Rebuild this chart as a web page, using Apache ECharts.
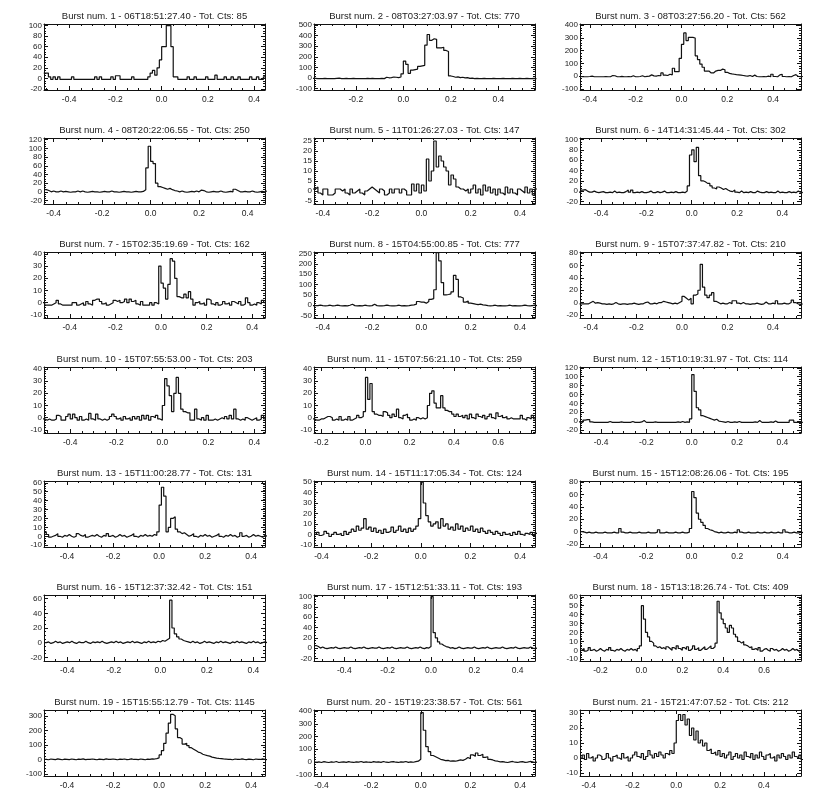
<!DOCTYPE html>
<html><head><meta charset="utf-8">
<script src="https://cdn.jsdelivr.net/npm/echarts@6/dist/echarts.min.js"></script>
<style>html,body{margin:0;padding:0;background:#fff}#c{width:827px;height:797px}</style>
</head><body><div id="c"></div>
<script>
// ---------------- DATA ----------------
const BIN = 0.01; // bin width (s)
const titles = [
 "Burst num. 1 - 06T18:51:27.40 - Tot. Cts: 85",
 "Burst num. 2 - 08T03:27:03.97 - Tot. Cts: 770",
 "Burst num. 3 - 08T03:27:56.20 - Tot. Cts: 562",
 "Burst num. 4 - 08T20:22:06.55 - Tot. Cts: 250",
 "Burst num. 5 - 11T01:26:27.03 - Tot. Cts: 147",
 "Burst num. 6 - 14T14:31:45.44 - Tot. Cts: 302",
 "Burst num. 7 - 15T02:35:19.69 - Tot. Cts: 162",
 "Burst num. 8 - 15T04:55:00.85 - Tot. Cts: 777",
 "Burst num. 9 - 15T07:37:47.82 - Tot. Cts: 210",
 "Burst num. 10 - 15T07:55:53.00 - Tot. Cts: 203",
 "Burst num. 11 - 15T07:56:21.10 - Tot. Cts: 259",
 "Burst num. 12 - 15T10:19:31.97 - Tot. Cts: 114",
 "Burst num. 13 - 15T11:00:28.77 - Tot. Cts: 131",
 "Burst num. 14 - 15T11:17:05.34 - Tot. Cts: 124",
 "Burst num. 15 - 15T12:08:26.06 - Tot. Cts: 195",
 "Burst num. 16 - 15T12:37:32.42 - Tot. Cts: 151",
 "Burst num. 17 - 15T12:51:33.11 - Tot. Cts: 193",
 "Burst num. 18 - 15T13:18:26.74 - Tot. Cts: 409",
 "Burst num. 19 - 15T15:55:12.79 - Tot. Cts: 1145",
 "Burst num. 20 - 15T19:23:38.57 - Tot. Cts: 561",
 "Burst num. 21 - 15T21:47:07.52 - Tot. Cts: 212"
];
const xMin = [-0.509,-0.376,-0.443,-0.44,-0.436,-0.493,-0.513,-0.436,-0.448,-0.514,-0.233,-0.493,-0.5,-0.43,-0.49,-0.5,-0.54,-0.3,-0.5,-0.43,-0.44];
const xMax = [0.447,0.554,0.522,0.472,0.461,0.482,0.456,0.461,0.523,0.446,0.767,0.482,0.46,0.46,0.48,0.45,0.48,0.78,0.46,0.46,0.57];
const yMin = [-22,-112,-109,-28,-6.5,-25,-12.5,-62,-25,-12.5,-12.5,-27,-12,-12,-25,-25,-25,-12,-115,-112,-12];
const yMax = [103,509,410,124,26.5,103,41.5,258,82,41.5,41.5,122,62,51,82,65,103,62,340,410,32];
const xT4 = [-0.4,-0.2,0,0.2,0.4];
const xTicks = [xT4,[-0.2,0,0.2,0.4],xT4,xT4,xT4,xT4,xT4,xT4,xT4,xT4,[-0.2,0,0.2,0.4,0.6],xT4,xT4,xT4,xT4,xT4,xT4,[-0.2,0,0.2,0.4,0.6],xT4,xT4,xT4];
const yTicks = [
 [-20,0,20,40,60,80,100],[-100,0,100,200,300,400,500],[-100,0,100,200,300,400],[-20,0,20,40,60,80,100,120],
 [-5,0,5,10,15,20,25],[-20,0,20,40,60,80,100],[-10,0,10,20,30,40],[-50,0,50,100,150,200,250],
 [-20,0,20,40,60,80],[-10,0,10,20,30,40],[-10,0,10,20,30,40],[-20,0,20,40,60,80,100,120],
 [-10,0,10,20,30,40,50,60],[-10,0,10,20,30,40,50],[-20,0,20,40,60,80],[-20,0,20,40,60],
 [-20,0,20,40,60,80,100],[-10,0,10,20,30,40,50,60],[-100,0,100,200,300],[-100,0,100,200,300,400],[-10,0,10,20,30]
];
const yMinorStep = [5,20,20,5,1,5,2,10,5,2,2,5,2,2,5,5,5,2,20,20,2];
const xMinorStep = 0.05;
const kStart = [-51,-38,-45,-44,-44,-50,-52,-44,-45,-52,-24,-50,-50,-43,-49,-50,-54,-30,-50,-43,-44];

const counts1 = [10,10,3,-2,3,-2,3,-2,-2,-2, -2,-2,3,-2,-2,-2,-2,-2,-2,-2, -2,-2,3,-2,3,-2,-2,-2,-2,3, -2,5,5,-2,-2,-2,-2,-2,3,-2, -2,-2,-2,-2,-2,3,10,15,6,20, 35,60,60,100,100,60,3,3,-2,-2, -2,-2,3,-2,-2,3,-2,-2,-2,-2, 3,-2,-2,-2,6,-2,-2,-2,3,-2, -2,3,-2,-2,3,-2,-2,-2,-2,3, -2,-2,3,-2,-2,3];
const counts2 = [-3,-5,-5,-5,-3,-5,-5,-5,-5,-2, 0,-5,-5,-3,-5,-5,-2,-5,-5,-5, -5,-5,-3,-5,-2,-5,-5,-5,-3,-5, 8,3,5,10,8,5,10,40,160,130, 45,75,80,85,110,115,120,310,410,355, 370,365,285,285,290,260,250,20,15,8, 12,5,8,2,5,-3,0,-5,-3,-5, -5,-2,-5,-5,-5,-2,-5,-5,-5,-3, -5,-5,-5,-2,-5,-5,-3,-5,-5,-2, -5,-5,-3,-5];
const counts3 = [-3,-5,-5,-5,-3,0,-5,-5,-5,-5, -5,-3,-5,-5,5,3,-5,-5,-2,-5, -5,-3,-5,3,-5,-5,-3,3,-5,-2, 0,10,2,0,5,3,25,8,5,15, 10,62,35,35,140,250,340,280,305,305, 300,160,130,95,70,40,40,25,25,40, 45,45,55,50,30,22,18,15,12,10, 8,5,2,0,5,-3,8,-3,-5,-5, -3,-5,0,-5,15,-3,-5,10,15,-3, -5,-3,-5,5,12,-3,-5,-3];
const counts4 = [5,3,0,2,0,0,2,0,1,0, -1,0,0,2,0,2,0,-1,0,1, 0,0,-1,0,1,0,0,2,0,0, -1,0,1,0,0,-1,0,1,0,0, 1,5,55,105,70,65,20,12,10,8, 6,8,5,3,2,0,2,0,-1,0, 1,0,2,0,4,3,0,-1,0,1, 0,0,2,0,-1,0,1,0,6,3, 0,0,1,0,0,2,0,-1,0,1,0,2];
const counts5 = [1,2,-1,-2,1,1,-2,-2,-1,1, 1,0,1,-1,-2,1,-1,0,1,-1, -2,0,1,2,1,0,-1,1,0,-2, -1,1,-1,1,1,-1,1,0,-2,-2, 3.5,0,3.5,-1,3,0,16,5,10,25, 12,17.5,15,12,10,3,8,6,2,1, 1,0,1,-1,1,3,-1,1,-2,3, 0,2,-1,1,-2,1,-1,-2,2,-1, 1,-1,-2,1,0,-1,2,-1,1,-2,1];
const counts6 = [-2,2,3,0,-2,-2,0,-2,-3,-2, -1,-3,-3,-2,-3,0,-3,-2,-3,-3, -1,2,-2,2,-3,-2,-3,-1,-3,-3, -2,0,-3,-3,-1,-3,-2,0,-3,-3, -2,-3,-1,-3,-3,-2,-3,0,10,70, 80,57,85,30,20,18,15,15,10,6, 4,8,6,3,5,2,0,-1,2,-2, -3,0,-3,-2,-3,-1,-3,-3,0,-2, -3,-3,-1,-3,-2,-3,-3,0,-3,-2, -3,-3,-1,-3,-2,-3,0,-2,-3];
const counts7 = [0,-2,-2,-2,-1,0,2,-1,-2,-2, -2,-2,-2,0,0,-2,-1,0,-2,1, -1,-2,2,3,3,1,-1,0,-2,-1, 0,2,1,2,0,1,3,0,3,1, 2,-1,-2,1,-2,-2,-2,0,-2,0, -1,30,16,12,3,15,36,34,20,5, 4,4,7,4,9,3,-2,0,1,-1, 0,-2,3,2,-1,-2,0,-2,-1,1, -1,0,-2,1,0,-1,1,-2,-1,4, 0,-2,-1,-2,0,-1,2,0];
const counts8 = [-2,-2,0,-2,-3,-2,0,-3,-2,0, -2,-3,-2,-3,0,5,-2,-3,-2,-3, 0,-2,-3,-2,5,-2,-3,-3,-2,0, -2,-3,-3,-2,0,-3,-2,-3,-2,0, 2,5,18,15,15,10,18,28,32,75, 255,215,110,50,52,55,65,145,125,40, 35,15,20,10,8,5,3,5,2,0, -2,-3,-2,0,-3,-2,-3,-3,-2,0, -3,-2,-3,-3,-2,0,-2,-3,-2,0,-2];
const counts9 = [-2,-2,-2,-2,0,2,-1,0,-1,-2, -2,-3,-2,-3,-2,0,-2,-3,-2,-2, -3,-2,-2,-1,-2,-3,-2,-2,0,1, -2,-2,-1,-2,0,0,2,1,0,-1, -2,-1,-2,0,2,10,7,4,7,-2, 12,14,20,62,25,12,8,12,16,2, 0,-2,-1,-2,-2,0,-2,3,3,-1, -2,0,-2,-2,-3,-2,-2,-1,-2,-3, -2,1,-2,-2,-1,-2,3,-2,-2,-1, -2,-2,0,4,0,-2,-3,-2];
const counts10 = [-1,-2,-1,-2,-2,-1,2,1,-2,-2, 1,3,-1,3,0,-2,1,-2,-1,-2, 3.5,-1,-2,3,-1,-2,-1,-2,-1,1, 3,1,-1,0,-2,1,-1,0,-2,1, -1,1,-2,2,-1,2,-2,1,0,2, -1,-2,10,32,26,18,5,20,33,20, 7,5,4,4,-2,-2,7,-1,-2,0, -2,2,-2,-2,-1,-2,-1,0,-1,1, -1,2,-1,7,-1,-2,-1,-2,0,-1, -2,-1,0,-2,-1,2,-1];
const counts11 = [-1,-2,-2,-1,-1,0,1,1,0,-2, -1,-2,1,-2,-1,-2,1,-2,-1,0, 2,0,1,5,33,15,28,5,3,2, 2,1,5,4,2,0,3,1,7,0, -1,2,3,0,-2,-1,-2,0,-1,0, -1,0,10,20,22,12,8,8,18,8, 6,5,5,3,1,3,1,2,0,2, -1,3,0,-1,3,1,0,2,-1,1, 3,0,-1,4,1,2,0,1,-1,0, -1,-1,-1,-1,2,-1,-2,0,-1,2,-1];
const counts12 = [-2,-3,2,3,3,-2,-3,-3,-3,-3, -3,-3,-3,-1,-3,-3,-3,-3,-2,-3, -3,-3,-3,-1,-3,-3,-3,-2,1,-3, -3,-3,-3,-2,-3,-3,-3,-3,-3,-3, -3,-3,-3,-2,-3,-1,-3,-2,-3,5, 105,67,30,25,12,10,8,6,4,2, 4,0,-1,-2,-3,-1,-3,-3,-2,-3, -1,-3,-3,-3,-3,-3,-3,-2,-3,1, -3,-3,-3,-3,-2,-3,0,-3,-3,-3, -3,-3,-3,2,2,-3,-3,-3,-3];
const counts13 = [5,2,-1,0,1,3,0,-1,1,0, 2,0,-1,0,3,1,0,2,-1,0, 1,0,2,0,-1,1,0,3,0,1, -1,0,2,0,1,-1,0,1,3,0, -1,1,0,2,0,1,0,2,1,5, 35,55,45,5,10,20,22,8,5,3, 4,2,0,1,3,0,-1,1,0,2, 0,1,-1,0,1,3,0,-1,1,0, 2,0,1,-1,0,4,0,1,-1,0, 2,0,1,0,-1,1,0];
const counts14 = [0,2,-1,0,3,1,-2,0,2,0, 1,-1,3,0,2,5,3,8,4,6, 15,5,7,3,6,2,4,1,5,2, 3,7,2,4,8,3,5,2,6,3, 5,8,15,50,30,18,12,8,10,12, 6,15,8,10,5,7,4,10,5,8, 3,6,4,8,3,5,2,6,3,1, 4,2,0,3,1,-1,2,0,1,-1, 2,0,3,0,-1,1,0,2,-1,1];
const counts15 = [0,-1,-2,-1,-2,-2,-1,-2,-2,-2, -1,-2,-2,-2,-1,-2,-2,5,-1,-2, -2,-1,-2,-2,-2,-1,-2,-2,-2,-1, -2,-2,-2,-1,3,-2,-2,-1,-2,-2, -2,-1,-2,-2,-1,-2,-2,-1,5,65, 55,30,20,15,10,5,3,2,0,-1, -2,-1,-2,-2,-1,-2,-2,-1,-2,3, -1,-2,-2,-1,-2,-2,-2,-1,-2,-2, -1,-2,-2,-1,-2,-2,-1,-2,-2,3, -1,-2,-2,-1,-2,-2,-1,-2];
const counts16 = [0,1,-1,0,2,0,1,-1,0,1, 0,2,0,-1,1,0,0,2,0,-1, 1,0,1,0,2,0,-1,0,1,0, 2,0,1,-1,0,1,0,2,0,1, 0,-1,1,0,2,0,1,0,2,1, 3,2,4,6,58,20,12,8,5,3, 2,1,0,2,0,1,-1,0,2,0, 1,0,-1,1,0,2,0,1,0,-1, 1,0,2,0,1,0,-1,1,0,2, 0,1,-1,0,1,0];
const counts17 = [5,3,0,2,0,-1,0,1,0,2, 0,-1,0,1,0,0,2,0,-1,0, 1,0,2,0,-1,0,1,0,0,2, 0,-1,0,1,0,2,0,-1,0,1, 0,0,2,0,-1,0,1,0,2,0, -1,1,0,3,100,30,20,12,8,5, 3,2,0,1,-1,0,2,0,-1,0, 1,0,0,2,0,-1,0,1,0,2, 0,-1,0,1,0,0,2,0,-1,0, 1,0,2,0,-1,0,1,0,0,2,0,-1,0];
const counts18 = [0,2,-1,0,3,0,1,-1,0,2, 0,-1,1,0,3,0,-1,1,0,2, 0,-1,1,0,2,0,1,-1,2,5, 50,35,20,15,10,8,5,3,4,2, 3,1,4,2,0,3,1,5,2,0, 3,1,4,0,2,5,1,3,0,2, 4,1,3,5,2,4,8,55,42,35, 30,25,20,28,25,18,15,10,8,10, 6,5,3,4,1,2,0,3,-1,1, 2,0,-1,2,0,1,-1,0,2,0, 1,-1,0,2,0,1,-1,0];
const counts19 = [0,-3,2,0,-2,3,0,-3,1,0, -2,2,0,-3,1,0,3,-2,0,-1, 2,0,-3,1,0,-2,3,0,-1,2, 0,-3,1,0,2,-2,0,3,-1,0, -2,2,0,-3,1,0,3,2,5,10, 30,60,110,180,250,310,300,210,150,140, 105,110,95,80,70,60,50,45,35,30, 25,22,15,12,8,6,5,3,2,0, 0,-3,2,0,-1,3,0,-2,1,0, -3,2,0,-1,3,0,-2];
const counts20 = [-3,0,-5,2,-2,-5,0,-3,3,-5, -2,0,-4,2,-3,-5,0,-2,3,-4, 0,-3,-5,2,-2,0,-4,3,-3,-5, 0,2,-3,-5,0,-2,3,-4,0,-3, 2,5,20,390,250,120,80,50,40,30, 20,15,10,12,5,8,5,10,15,12, 20,35,25,55,45,70,50,60,35,40, 20,15,8,5,0,2,-2,-5,0,3, -3,-5,0,2,-4,-2,3,0,-5,-2];
const counts21 = [0,2,-1,3,0,1,-2,0,2,1, -1,0,3,0,-2,1,2,0,-1,3, 0,1,-2,0,2,4,1,0,3,-1, 1,5,2,0,3,1,4,2,0,3, 2,5,3,10,25,29,25,29,22,26, 15,20,12,18,10,12,8,10,5,6, 3,4,2,5,1,3,0,2,4,-1, 1,3,0,2,-1,4,1,0,3,-1, 2,0,4,1,-1,2,3,0,1,-2, 2,0,3,1,-1,2,0,4,1,0,2,-1];
const counts = [counts1,counts2,counts3,counts4,counts5,counts6,counts7,counts8,counts9,counts10,counts11,counts12,counts13,counts14,counts15,counts16,counts17,counts18,counts19,counts20,counts21];

// ---------------- LAYOUT ----------------
const colLeft = [44, 314, 580];
const rowTop = [24, 138, 252, 367, 481, 595, 710];
const W = 221, H = 66;
const FONT = '"Liberation Sans", Arial, sans-serif';
const INK = '#111';

function minorTicks(lo, hi, s) {
  const out = [];
  for (let i = Math.ceil(lo / s - 1e-9); i * s <= hi + 1e-9; i++) out.push(+(i * s).toFixed(6));
  return out;
}

const grid = [], xAxis = [], yAxis = [], series = [], title = [];
counts.forEach((vals, p) => {
  const col = p % 3, row = Math.floor(p / 3);
  const left = colLeft[col], top = rowTop[row];
  const gMain = 2 * p, gMinor = 2 * p + 1;
  [gMain, gMinor].forEach(() => grid.push({left, top, width: W, height: H, containLabel: false, outerBoundsMode: 'none'}));
  const lineStyle = {color: INK, width: 1};
  const xMinor = minorTicks(xMin[p], xMax[p], xMinorStep), yMinor = minorTicks(yMin[p], yMax[p], yMinorStep[p]);
  const mk = (gi, pos, isX, ticks, len, showLine, showLabel) => ({
      gridIndex: gi, type: 'value', position: pos,
      min: isX ? xMin[p] : yMin[p], max: isX ? xMax[p] : yMax[p],
      axisLine: {show: showLine, onZero: false, lineStyle},
      axisTick: {show: true, inside: true, length: len, customValues: ticks, lineStyle},
      axisLabel: {show: showLabel, customValues: ticks, fontFamily: FONT, color: '#222',
        fontSize: isX ? 8.5 : 8, margin: isX ? 5 : 2,
        formatter: isX ? (v => (Math.abs(v) < 1e-9 ? 0 : v).toFixed(1)) : (v => String(v))},
      splitLine: {show: false}, minorTick: {show: false}, minorSplitLine: {show: false}
  });
  xAxis.push(mk(gMain, 'bottom', true, xTicks[p], 4, true, true));
  xAxis.push(mk(gMain, 'top', true, xTicks[p], 4, true, false));
  xAxis.push(mk(gMinor, 'bottom', true, xMinor, 2, false, false));
  xAxis.push(mk(gMinor, 'top', true, xMinor, 2, false, false));
  yAxis.push(mk(gMain, 'left', false, yTicks[p], 4, true, true));
  yAxis.push(mk(gMain, 'right', false, yTicks[p], 4, true, false));
  yAxis.push(mk(gMinor, 'left', false, yMinor, 2, false, false));
  yAxis.push(mk(gMinor, 'right', false, yMinor, 2, false, false));

  const data = vals.map((v, i) => [+((kStart[p] + i) * BIN).toFixed(4), v]);
  data.push([+((kStart[p] + vals.length) * BIN).toFixed(4), vals[vals.length - 1]]);
  series.push({
    type: 'line', xAxisIndex: 4 * p, yAxisIndex: 4 * p, data, step: 'end',
    showSymbol: false, symbol: 'none', clip: true, silent: true,
    lineStyle: {color: INK, width: 1.2}
  });
  title.push({
    text: titles[p], left: left + W / 2, top: top - 13, textAlign: 'center', padding: 0,
    textStyle: {fontFamily: FONT, fontSize: 9.5, fontWeight: 'normal', color: '#222'}
  });
});

const chart = echarts.init(document.getElementById('c'), null, {renderer: 'canvas', width: 827, height: 797});
chart.setOption({backgroundColor: '#fff', animation: false, title, grid, xAxis, yAxis, series});
</script></body></html>
